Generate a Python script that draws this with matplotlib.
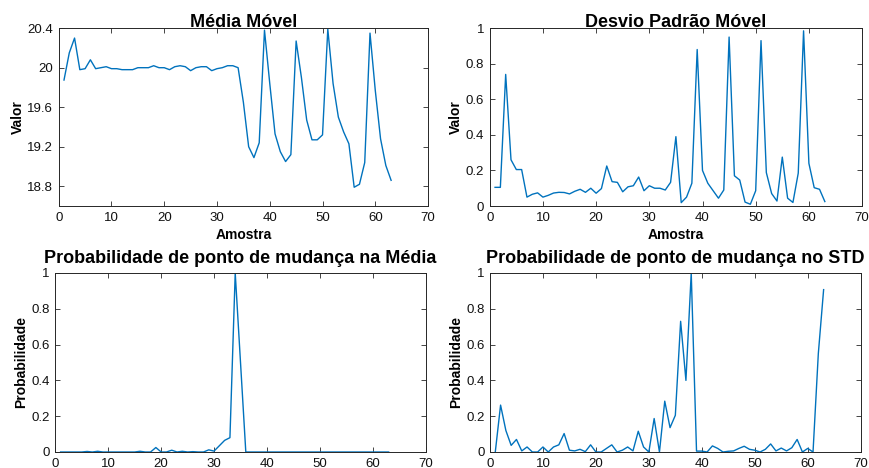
import matplotlib
matplotlib.use('Agg')
import matplotlib.pyplot as plt
import numpy as np

plt.rcParams['font.family'] = ['Liberation Sans', 'DejaVu Sans']

amostra = np.arange(1, 64)

media_movel = [19.875, 20.15, 20.30, 19.98, 19.99, 20.08, 19.99, 20.00, 20.01, 19.99,
               19.99, 19.98, 19.98, 19.98, 20.00, 20.00, 20.00, 20.02, 20.00, 20.00,
               19.98, 20.01, 20.02, 20.01, 19.97, 20.00, 20.01, 20.01, 19.97, 19.99,
               20.00, 20.02, 20.02, 20.00, 19.65, 19.20, 19.09, 19.24, 20.38, 19.84,
               19.33, 19.15, 19.05, 19.12, 20.27, 19.90, 19.47, 19.27, 19.27, 19.32,
               20.39, 19.84, 19.50, 19.35, 19.23, 18.79, 18.82, 19.04, 20.35, 19.77,
               19.28, 19.01, 18.86]

desvio_movel = [0.105, 0.105, 0.74, 0.26, 0.205, 0.205, 0.05, 0.066, 0.074, 0.05,
                0.06, 0.073, 0.077, 0.076, 0.068, 0.083, 0.094, 0.077, 0.10, 0.072,
                0.098, 0.225, 0.137, 0.133, 0.08, 0.108, 0.114, 0.163, 0.086, 0.114,
                0.10, 0.10, 0.09, 0.133, 0.39, 0.019, 0.05, 0.128, 0.88, 0.20,
                0.128, 0.086, 0.044, 0.09, 0.95, 0.17, 0.146, 0.022, 0.01, 0.086,
                0.93, 0.188, 0.07, 0.028, 0.275, 0.044, 0.02, 0.185, 0.985, 0.24,
                0.103, 0.094, 0.025]

prob_media = [0, 0, 0, 0, 0, 0.003, 0, 0.004, 0, 0,
              0, 0, 0, 0, 0, 0.004, 0, 0, 0.025, 0,
              0, 0.01, 0, 0.004, 0, 0.002, 0, 0, 0.012, 0.005,
              0.035, 0.065, 0.08, 1.0, 0.5, 0, 0, 0, 0, 0,
              0, 0, 0, 0, 0, 0, 0, 0, 0, 0,
              0, 0, 0, 0, 0, 0, 0, 0, 0, 0,
              0, 0, 0]

prob_std = [0, 0.262, 0.12, 0.037, 0.07, 0.006, 0.028, 0, 0, 0.028,
            0, 0.028, 0.04, 0.103, 0.01, 0.006, 0.015, 0.002, 0.04, 0,
            0, 0.02, 0.04, 0, 0.01, 0.028, 0.006, 0.116, 0.028, 0,
            0.187, 0, 0.284, 0.136, 0.205, 0.73, 0.40, 1.0, 0.005, 0.005,
            0, 0.034, 0.02, 0, 0.004, 0.006, 0.02, 0.032, 0.015, 0.01,
            0, 0.015, 0.045, 0.006, 0.022, 0.006, 0.024, 0.07, 0, 0.02,
            0, 0.55, 0.907]

cor = '#0072BD'
eixo = '#262626'


def estilo(ax, ylim, yticks, ylabels):
    ax.set_xlim(0, 70)
    ax.set_xticks(range(0, 71, 10))
    ax.set_ylim(*ylim)
    ax.set_yticks(yticks)
    ax.set_yticklabels(ylabels)
    ax.tick_params(direction='in', top=True, right=True, labelsize=9.5,
                   colors=eixo, labelcolor='#111111', length=3.5, width=0.6, pad=4)
    for s in ax.spines.values():
        s.set_color(eixo)
        s.set_linewidth(0.7)


fig = plt.figure(figsize=(8.7, 4.68), dpi=100)

ax1 = fig.add_axes([0.0675, 0.5598, 0.4245, 0.380])
ax1.plot(amostra, media_movel, color=cor, lw=1)
estilo(ax1, (18.6, 20.4), [18.8, 19.2, 19.6, 20, 20.4],
       ['18.8', '19.2', '19.6', '20', '20.4'])
ax1.set_title('Média Móvel', fontsize=13, fontweight='bold', pad=1)
ax1.set_ylabel('Valor', fontsize=10, fontweight='bold', labelpad=2)
ax1.set_xlabel('Amostra', fontsize=10, fontweight='bold', labelpad=3)

pticks = [0, 0.2, 0.4, 0.6, 0.8, 1]
plabels = ['0', '0.2', '0.4', '0.6', '0.8', '1']

ax2 = fig.add_axes([0.5629, 0.5598, 0.428, 0.380])
ax2.plot(amostra, desvio_movel, color=cor, lw=1)
estilo(ax2, (0, 1), pticks, plabels)
ax2.set_title('Desvio Padrão Móvel', fontsize=13, fontweight='bold', pad=1)
ax2.set_ylabel('Valor', fontsize=10, fontweight='bold', labelpad=2)
ax2.set_xlabel('Amostra', fontsize=10, fontweight='bold', labelpad=3)

ax3 = fig.add_axes([0.0636, 0.0342, 0.4257, 0.3825])
ax3.plot(amostra, prob_media, color=cor, lw=1)
estilo(ax3, (0, 1), pticks, plabels)
ax3.set_title('Probabilidade de ponto de mudança na Média', fontsize=13,
              fontweight='bold', pad=7)
ax3.set_ylabel('Probabilidade', fontsize=10, fontweight='bold', labelpad=2)

ax4 = fig.add_axes([0.5632, 0.0342, 0.4261, 0.3825])
ax4.plot(amostra, prob_std, color=cor, lw=1)
estilo(ax4, (0, 1), pticks, plabels)
ax4.set_title('Probabilidade de ponto de mudança no STD', fontsize=13,
              fontweight='bold', pad=7)
ax4.set_ylabel('Probabilidade', fontsize=10, fontweight='bold', labelpad=2)

fig.savefig('out.png', dpi=100)
